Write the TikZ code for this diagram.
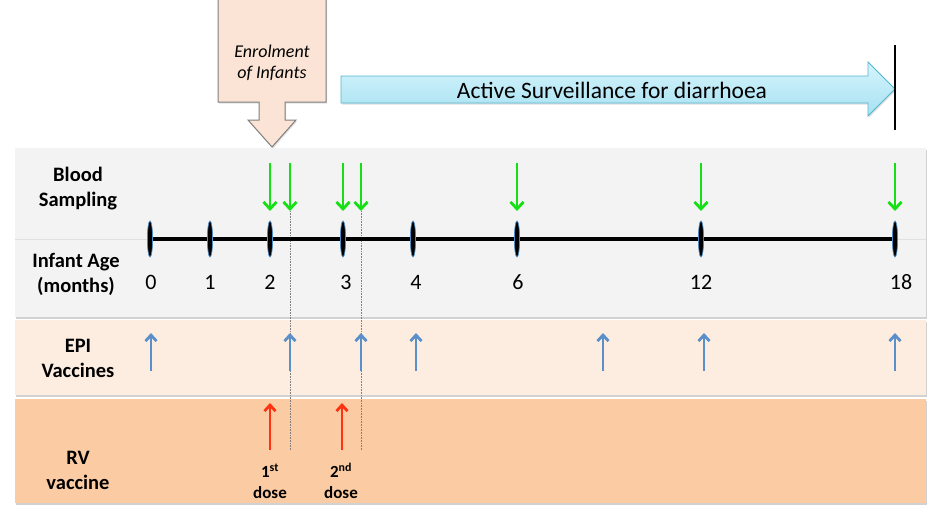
\documentclass[tikz,border=0pt]{standalone}
\usepackage{fontspec}
\setmainfont{Carlito}
\usetikzlibrary{arrows.meta, shadows, calc}

\definecolor{bandgray}{HTML}{F3F3F3}
\definecolor{bandepi}{HTML}{FDEDE1}
\definecolor{bandrv}{HTML}{FBCBA3}
\definecolor{enrolpeach}{HTML}{FBE4D5}
\definecolor{survtop}{HTML}{D6F4FC}
\definecolor{survbot}{HTML}{A6E1F2}
\definecolor{survedge}{HTML}{55B6D0}
\definecolor{bsgreen}{HTML}{14E014}
\definecolor{epiblue}{HTML}{5B8FC9}
\definecolor{rvred}{HTML}{FF3311}
\definecolor{tickblue}{HTML}{4A8CC8}

\begin{document}
\begin{tikzpicture}[x=1pt,y=-1pt,
    band/.style={drop shadow={shadow xshift=1pt,shadow yshift=-2pt,opacity=.35}},
    lab/.style={font=\fontsize{20.5}{25}\selectfont\bfseries, align=center},
    num/.style={font=\fontsize{22}{24}\selectfont},
    dose/.style={font=\fontsize{17}{21}\selectfont\bfseries, align=center},
    bsarrow/.style={draw=bsgreen, line width=2.8pt, -{Straight Barb[length=7pt,width=13pt,line width=2.8pt]}},
    epiarrow/.style={draw=epiblue, line width=2.8pt, -{Straight Barb[length=6pt,width=11pt,line width=2.8pt]}},
    rvarrow/.style={draw=rvred, line width=2.8pt, -{Straight Barb[length=6pt,width=11pt,line width=2.8pt]}},
    tick/.style={fill=black, draw=tickblue, line width=0.7pt},
    guide/.style={draw=gray, densely dotted, line width=0.6pt}]

    \useasboundingbox[fill=white] (0,0) rectangle (940,530);

    % bands
    \fill[bandgray, band] (15,148) rectangle (926,317);
    \draw[black!12] (15,239) -- (926,239);
    \fill[bandepi, band] (15,320) rectangle (926,395);
    \fill[bandrv, band] (15,399) rectangle (926,503);

    % enrolment callout
    \draw[fill=enrolpeach, draw=black!50, line width=1pt, drop shadow={shadow xshift=1pt,shadow yshift=-1.5pt,opacity=.25}]
        (218,-2) -- (326,-2) -- (326,102) -- (285,102) -- (285,120) -- (296,120) -- (272,147)
        -- (248,120) -- (259,120) -- (259,102) -- (218,102) -- cycle;
    \node[font=\fontsize{18}{21}\selectfont\itshape, align=center] (enrol) at (272,63) {Enrolment\\of Infants};

    % surveillance arrow
    \draw[top color=survtop, bottom color=survbot, draw=survedge, line width=0.8pt, drop shadow={shadow xshift=1pt,shadow yshift=-1.5pt,opacity=.25}]
        (341,76) -- (868,76) -- (868,62) -- (895,89) -- (868,116) -- (868,103) -- (341,103) -- cycle;
    \node[font=\fontsize{23.5}{26}\selectfont] (surv) at (612,90) {Active Surveillance for diarrhoea};
    \draw[line width=2.5pt] (895,45) -- (895,130);

    % row labels
    \node[lab] (blood) at (78,189) {Blood\\Sampling};
    \node[lab] (age) at (76,274) {Infant Age\\(months)};
    \node[lab] (epi) at (78,358) {EPI\\Vaccines};
    \node[lab] (rv) at (78,470) {RV\\vaccine};

    % guide lines
    \draw[guide] (290,211) -- (290,450);
    \draw[guide] (361,211) -- (361,450);

    % time axis
    \coordinate (a0) at (150,239);
    \coordinate (a18) at (895,239);
    \draw[line width=4.5pt] (a0) -- (a18);
    \draw[tick] (150,239) ellipse (2.6 and 18);
    \draw[tick] (210,239) ellipse (2.6 and 18);
    \draw[tick] (270,239) ellipse (2.6 and 18);
    \draw[tick] (343,239) ellipse (2.6 and 18);
    \draw[tick] (413,239) ellipse (2.6 and 18);
    \draw[tick] (517,239) ellipse (2.6 and 18);
    \draw[tick] (701,239) ellipse (2.6 and 18);
    \draw[tick] (895,239) ellipse (2.6 and 18);

    \node[num] (n0) at (151,282) {0};
    \node[num] (n1) at (210,282) {1};
    \node[num] (n2) at (270,282) {2};
    \node[num] (n3) at (346,282) {3};
    \node[num] (n4) at (416,282) {4};
    \node[num] (n6) at (518,282) {6};
    \node[num] (n12) at (701,282) {12};
    \node[num] (n18) at (901,282) {18};

    % blood sampling
    \draw[bsarrow] (270,163) -- (270,211);
    \draw[bsarrow] (290,163) -- (290,211);
    \draw[bsarrow] (343,163) -- (343,211);
    \draw[bsarrow] (361,163) -- (361,211);
    \draw[bsarrow] (517,163) -- (517,211);
    \draw[bsarrow] (701,163) -- (701,211);
    \draw[bsarrow] (895,163) -- (895,211);

    % EPI vaccines
    \draw[epiarrow] (151,371) -- (151,333);
    \draw[epiarrow] (290,371) -- (290,333);
    \draw[epiarrow] (361,371) -- (361,333);
    \draw[epiarrow] (416,371) -- (416,333);
    \draw[epiarrow] (603,371) -- (603,333);
    \draw[epiarrow] (704,371) -- (704,333);
    \draw[epiarrow] (895,371) -- (895,333);

    % RV vaccine
    \draw[rvarrow] (270,450) -- (270,403);
    \draw[rvarrow] (342,450) -- (342,403);
    \node[dose] (d1) at (270,481) {1\textsuperscript{st}\\dose};
    \node[dose] (d2) at (341,481) {2\textsuperscript{nd}\\dose};
\end{tikzpicture}
\end{document}
